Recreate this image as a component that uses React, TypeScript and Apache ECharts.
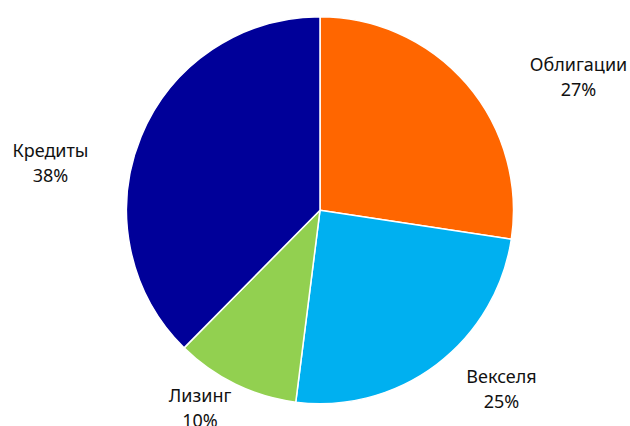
import React, { useEffect, useRef } from "react";
import * as echarts from "echarts";

const categories = ["Облигации", "Векселя", "Лизинг", "Кредиты"];
const shares = [27.4, 24.6, 10.4, 37.6];
const colors = ["#FF6600", "#00B0F0", "#92D050", "#000099"];
// label anchor centres (px) for each slice's text block
const labelAnchors: [number, number][] = [
  [578.5, 76.5],
  [501.5, 388.5],
  [200, 407],
  [50.5, 162],
];

export default function App() {
  const ref = useRef<HTMLDivElement>(null);
  useEffect(() => {
    if (!ref.current) return;
    const chart = echarts.init(ref.current, null, { renderer: "svg" });
    chart.setOption({
      animation: false,
      backgroundColor: "#ffffff",
      series: [
        {
          type: "pie",
          center: [320, 210.2],
          radius: 193.5,
          startAngle: 90,
          clockwise: true,
          avoidLabelOverlap: false,
          itemStyle: { borderColor: "#ffffff", borderWidth: 1.5 },
          label: {
            show: true,
            position: "outside",
            formatter: (p: any) => `${p.name}\n${Math.round(p.value)}%`,
            fontFamily: "Noto Sans",
            fontSize: 18,
            lineHeight: 25,
            color: "#111111",
            align: "center",
          },
          labelLine: { show: false },
          labelLayout: (p: any) => ({
            x: labelAnchors[p.dataIndex][0],
            y: labelAnchors[p.dataIndex][1],
            align: "center",
            verticalAlign: "middle",
          }),
          emphasis: { disabled: true },
          data: categories.map((name, i) => ({
            name,
            value: shares[i],
            itemStyle: { color: colors[i] },
          })),
        },
      ],
    });
    return () => chart.dispose();
  }, []);
  return (
    <div
      ref={ref}
      style={{ position: "absolute", left: 0, top: 0, width: 630, height: 426 }}
    />
  );
}
